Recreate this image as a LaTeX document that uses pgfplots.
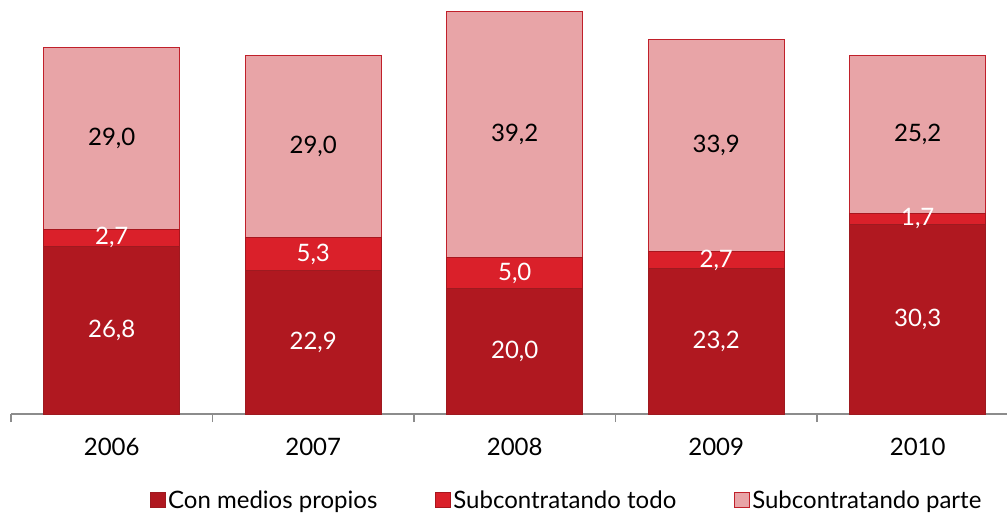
\documentclass[border=0pt]{standalone}
\usepackage{pgfplots}
\pgfplotsset{compat=1.18}
\usepackage{fontspec}
\setmainfont{Lato}
\definecolor{darkred}{HTML}{B01820}
\definecolor{darkredb}{HTML}{9E1A20}
\definecolor{midred}{HTML}{DA202A}
\definecolor{midredb}{HTML}{A8161E}
\definecolor{pinkred}{HTML}{E8A4A7}
\definecolor{pinkredb}{HTML}{C0202A}
\definecolor{axisgray}{HTML}{8C8C8C}
\newcommand{\lab}{\fontsize{24}{28}\selectfont}
\begin{document}
\begin{tikzpicture}
\pgfplotsset{
  common/.style={
    at={(11pt,101pt)}, anchor=south west,
    scale only axis, width=996pt, height=414pt,
    xmin=-0.5, xmax=4.443, ymin=0, ymax=66.1,
  },
  lbl/.style={draw=none, mark=none, forget plot,
    point meta=explicit,
    nodes near coords={\pgfmathprintnumber[fixed,fixed zerofill,precision=1,use comma,assume math mode=true]{\pgfplotspointmeta}},
    every node near coord/.append style={anchor=center, font=\lab, text=#1, inner sep=0pt}},
}
\begin{axis}[common,
  ybar stacked, bar width=136pt,
  axis x line*=bottom, axis y line=none,
  x axis line style={-, draw=axisgray, line width=1.5pt},
  xtick={0,1,2,3,4}, xticklabels={2006,2007,2008,2009,2010},
  major tick length=0pt,
  minor xtick={-0.5,0.5,1.5,2.5,3.5},
  minor tick length=8pt,
  minor x tick style={draw=axisgray, line width=1.5pt},
  tick align=outside,
  xticklabel style={font=\lab, anchor=north, inner sep=0pt, yshift=-24pt},
  legend style={at={(0.558,-0.2077)}, anchor=center, draw=none, fill=none,
    legend columns=3, font=\lab, inner sep=0pt,
    /tikz/every even column/.append style={column sep=56pt}},
  legend image code/.code={\draw[#1, line width=1pt] (0pt,-7.5pt) rectangle (15pt,7.5pt);},
]
\addplot[fill=darkred, draw=darkredb, line width=1pt] coordinates {(0,26.8) (1,22.9) (2,20.0) (3,23.2) (4,30.3)};
\addplot[fill=midred, draw=midredb, line width=1pt] coordinates {(0,2.7) (1,5.3) (2,5.0) (3,2.7) (4,1.7)};
\addplot[fill=pinkred, draw=pinkredb, line width=1pt] coordinates {(0,29.0) (1,29.0) (2,39.2) (3,33.9) (4,25.2)};
\legend{Con medios propios, Subcontratando todo, Subcontratando parte}
\end{axis}
\begin{axis}[common, hide axis, clip=false]
\addplot[lbl=white] coordinates {(0,13.4) [26.8] (1,11.45) [22.9] (2,10.0) [20.0] (3,11.6) [23.2] (4,15.15) [30.3]};
\addplot[lbl=white] coordinates {(0,28.15) [2.7] (1,25.55) [5.3] (2,22.5) [5.0] (3,24.55) [2.7] (4,31.15) [1.7]};
\addplot[lbl=black] coordinates {(0,44.0) [29.0] (1,42.7) [29.0] (2,44.6) [39.2] (3,42.85) [33.9] (4,44.6) [25.2]};
\end{axis}
\pgfresetboundingbox
\path[use as bounding box] (0,0) rectangle (1007pt,515pt);
\end{tikzpicture}
\end{document}
